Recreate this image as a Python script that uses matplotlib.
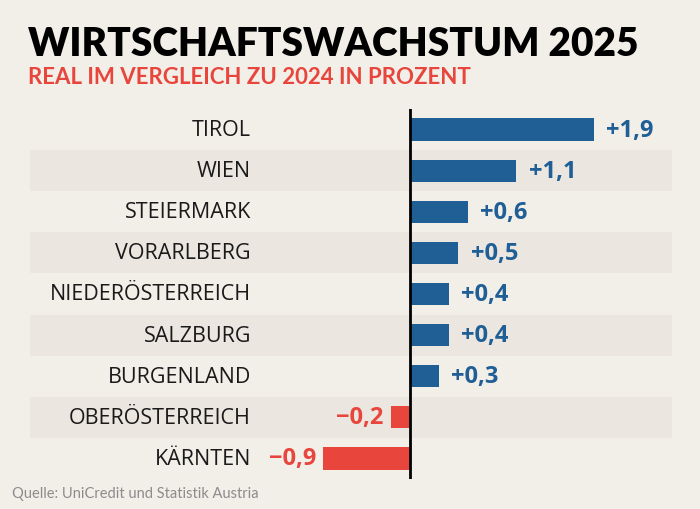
import matplotlib.pyplot as plt
import matplotlib.transforms as mtransforms

# data
regions = ['TIROL', 'WIEN', 'STEIERMARK', 'VORARLBERG', 'NIEDERÖSTERREICH',
           'SALZBURG', 'BURGENLAND', 'OBERÖSTERREICH', 'KÄRNTEN']
growth = [1.9, 1.1, 0.6, 0.5, 0.4, 0.4, 0.3, -0.2, -0.9]

bg = '#f2eee8'
stripe = '#ebe6e0'
blue = '#1f5f96'
red = '#e8453c'
fam = ['Lato', 'DejaVu Sans']
fam2 = ['Open Sans', 'DejaVu Sans']

fig = plt.figure(figsize=(7, 5.1), dpi=100, facecolor=bg)
W, H = 700, 510
# axes spans the striped area, x=30..672 px, y=110..480 px
ax = fig.add_axes([30 / W, 1 - 480 / H, (672 - 30) / W, (480 - 110) / H])
ax.set_facecolor(bg)
ax.set_xlim(-3.93, 2.71)
ax.set_ylim(len(regions) - 0.5, -0.5)
ax.axis('off')

for i, (name, v) in enumerate(zip(regions, growth)):
    if i % 2 == 1:
        ax.axhspan(i - 0.5, i + 0.5, color=stripe, lw=0, zorder=0)
    col = blue if v > 0 else red
    ax.barh(i, v, height=0.54, color=col, zorder=2)
    txt = ('+' if v > 0 else '\u2212') + f'{abs(v):.1f}'.replace('.', ',')
    if v > 0:
        ax.annotate(txt, (v, i), xytext=(9, 0), textcoords='offset points',
                    ha='left', va='center', color=col, fontsize=17,
                    fontweight='bold', family=fam2)
    else:
        ax.annotate(txt, (v, i), xytext=(-5, 0), textcoords='offset points',
                    ha='right', va='center', color=col, fontsize=17,
                    fontweight='bold', family=fam2)

# category labels, right aligned at x=251 px
trans = mtransforms.blended_transform_factory(fig.transFigure, ax.transData)
for i, name in enumerate(regions):
    ax.text(251 / W, i, name, transform=trans, ha='right', va='center',
            fontsize=15.5, color='#1a1a1a', family=fam2)

ax.axvline(0, color='black', lw=2, zorder=3)

fig.text(28 / W, 1 - 44 / H, 'WIRTSCHAFTSWACHSTUM 2025', fontsize=28,
         fontweight='heavy', family=fam, va='center', color='black')
fig.text(28 / W, 1 - 78 / H, 'REAL IM VERGLEICH ZU 2024 IN PROZENT', fontsize=16,
         fontweight='bold', family=fam, va='center', color=red)
fig.text(12 / W, 1 - 494 / H, 'Quelle: UniCredit und Statistik Austria', fontsize=10.5,
         family=fam, va='center', color='#8c8c8c')

fig.savefig('out.png', dpi=100, facecolor=bg)
